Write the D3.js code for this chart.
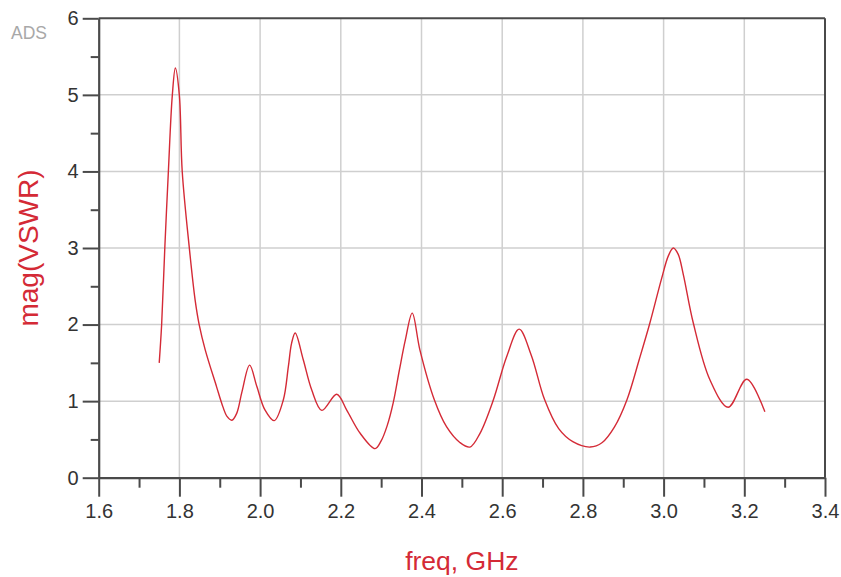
<!DOCTYPE html>
<html>
<head>
<meta charset="utf-8">
<script src="https://cdn.jsdelivr.net/npm/d3@7"></script>
<style>
  html, body { margin: 0; padding: 0; background: #fff; }
  svg { display: block; font-family: "Liberation Sans", Arial, sans-serif; }
</style>
</head>
<body>
<svg id="chart" width="841" height="577"></svg>
<script>
// Frequency sweep (GHz) and VSWR magnitude
const freq = [
  1.750, 1.756, 1.764, 1.7725, 1.7825, 1.790, 1.7998, 1.807, 1.8246, 1.839,
  1.849, 1.864, 1.892, 1.905, 1.918, 1.930, 1.942, 1.955, 1.974, 1.992,
  2.012, 2.035, 2.0575, 2.070, 2.078, 2.087, 2.107, 2.128, 2.153, 2.190,
  2.215, 2.248, 2.285, 2.300, 2.315, 2.330, 2.345, 2.360, 2.377, 2.396,
  2.432, 2.462, 2.495, 2.520, 2.545, 2.578, 2.611, 2.642, 2.672, 2.705,
  2.740, 2.775, 2.818, 2.848, 2.878, 2.909, 2.940, 2.966, 2.995, 3.012,
  3.024, 3.036, 3.049, 3.0736, 3.115, 3.160, 3.206, 3.251
];
const vswr = [
  1.50, 2.00, 3.02, 3.98, 5.00, 5.35, 5.00, 4.00, 3.00, 2.32,
  2.00, 1.67, 1.19, 0.97, 0.80, 0.75, 0.84, 1.12, 1.47, 1.19,
  0.885, 0.745, 1.015, 1.45, 1.755, 1.89, 1.54, 1.145, 0.88, 1.09,
  0.88, 0.58, 0.38, 0.48, 0.68, 0.98, 1.40, 1.80, 2.15, 1.67,
  1.015, 0.666, 0.46, 0.40, 0.58, 1.015, 1.58, 1.94, 1.60, 1.02,
  0.64, 0.47, 0.40, 0.46, 0.66, 1.015, 1.55, 2.02, 2.60, 2.90,
  3.00, 2.92, 2.65, 2.02, 1.276, 0.92, 1.285, 0.86
];

const xMajorTicks = [1.6, 1.8, 2.0, 2.2, 2.4, 2.6, 2.8, 3.0, 3.2, 3.4];
const xMinorTicks = [1.7, 1.9, 2.1, 2.3, 2.5, 2.7, 2.9, 3.1, 3.3];
const yMajorTicks = [0, 1, 2, 3, 4, 5, 6];
const yMinorTicks = [0.5, 1.5, 2.5, 3.5, 4.5, 5.5];

const svg = d3.select("#chart");
const plotL = 98.7, plotR = 825, plotT = 18.3, plotB = 477.7;

const x = d3.scaleLinear().domain([1.6, 3.4]).range([plotL, plotR]);
const y = d3.scaleLinear().domain([0, 6]).range([plotB, plotT]);

const axisColor = "#4a4a4a";
const gridColor = "#cfcfcf";
const labelColor = "#333";
const red = "#d42a36";

// grid
const grid = svg.append("g");
grid.selectAll("line.v").data(xMajorTicks.slice(1, -1)).join("line")
  .attr("class", "v")
  .attr("x1", d => x(d)).attr("x2", d => x(d))
  .attr("y1", plotT).attr("y2", plotB)
  .attr("stroke", gridColor).attr("stroke-width", 1.5);
grid.selectAll("line.h").data(yMajorTicks.slice(1, -1)).join("line")
  .attr("class", "h")
  .attr("x1", plotL).attr("x2", plotR)
  .attr("y1", d => y(d)).attr("y2", d => y(d))
  .attr("stroke", gridColor).attr("stroke-width", 1.5);

// curve
const line = d3.line()
  .x((d, i) => x(freq[i]))
  .y(d => y(d))
  .curve(d3.curveCatmullRom.alpha(0.5));
svg.append("path")
  .datum(vswr)
  .attr("d", line)
  .attr("fill", "none")
  .attr("stroke", red)
  .attr("stroke-width", 1.4);

// frame top / right
svg.append("line").attr("x1", plotL).attr("x2", plotR).attr("y1", plotT).attr("y2", plotT)
  .attr("stroke", axisColor).attr("stroke-width", 2);
svg.append("line").attr("x1", plotR).attr("x2", plotR).attr("y1", plotT).attr("y2", plotB)
  .attr("stroke", axisColor).attr("stroke-width", 2);

function styleAxis(g) {
  g.select(".domain").attr("stroke", axisColor).attr("stroke-width", 2.2);
  g.selectAll(".tick line").attr("stroke", axisColor).attr("stroke-width", 2);
  g.selectAll(".tick text").attr("fill", labelColor)
    .style("font-size", "20px");
}

// x axis
const xMinor = svg.append("g").attr("transform", `translate(0,${plotB})`)
  .call(d3.axisBottom(x).tickValues(xMinorTicks).tickSize(10).tickFormat(""));
styleAxis(xMinor);
xMinor.select(".domain").remove();
const xAxis = svg.append("g").attr("transform", `translate(0,${plotB})`)
  .call(d3.axisBottom(x).tickValues(xMajorTicks).tickSize(19).tickSizeOuter(0)
    .tickPadding(7).tickFormat(d3.format(".1f")));
styleAxis(xAxis);

// y axis
const yMinor = svg.append("g").attr("transform", `translate(${plotL},0)`)
  .call(d3.axisLeft(y).tickValues(yMinorTicks).tickSize(8).tickFormat(""));
styleAxis(yMinor);
yMinor.select(".domain").remove();
const yAxis = svg.append("g").attr("transform", `translate(${plotL},0)`)
  .call(d3.axisLeft(y).tickValues(yMajorTicks).tickSize(16).tickSizeOuter(0)
    .tickPadding(4).tickFormat(d3.format("d")));
styleAxis(yAxis);

// titles
svg.append("text")
  .attr("x", (plotL + plotR) / 2).attr("y", 570)
  .attr("text-anchor", "middle")
  .attr("fill", red)
  .style("font-size", "26.5px")
  .text("freq, GHz");

svg.append("text")
  .attr("transform", `translate(38,${(plotT + plotB) / 2}) rotate(-90)`)
  .attr("text-anchor", "middle")
  .attr("fill", red)
  .style("font-size", "28px")
  .text("mag(VSWR)");

svg.append("text")
  .attr("x", 11).attr("y", 39)
  .attr("fill", "#a8a8a8")
  .style("font-size", "17.5px")
  .text("ADS");
</script>
</body>
</html>
